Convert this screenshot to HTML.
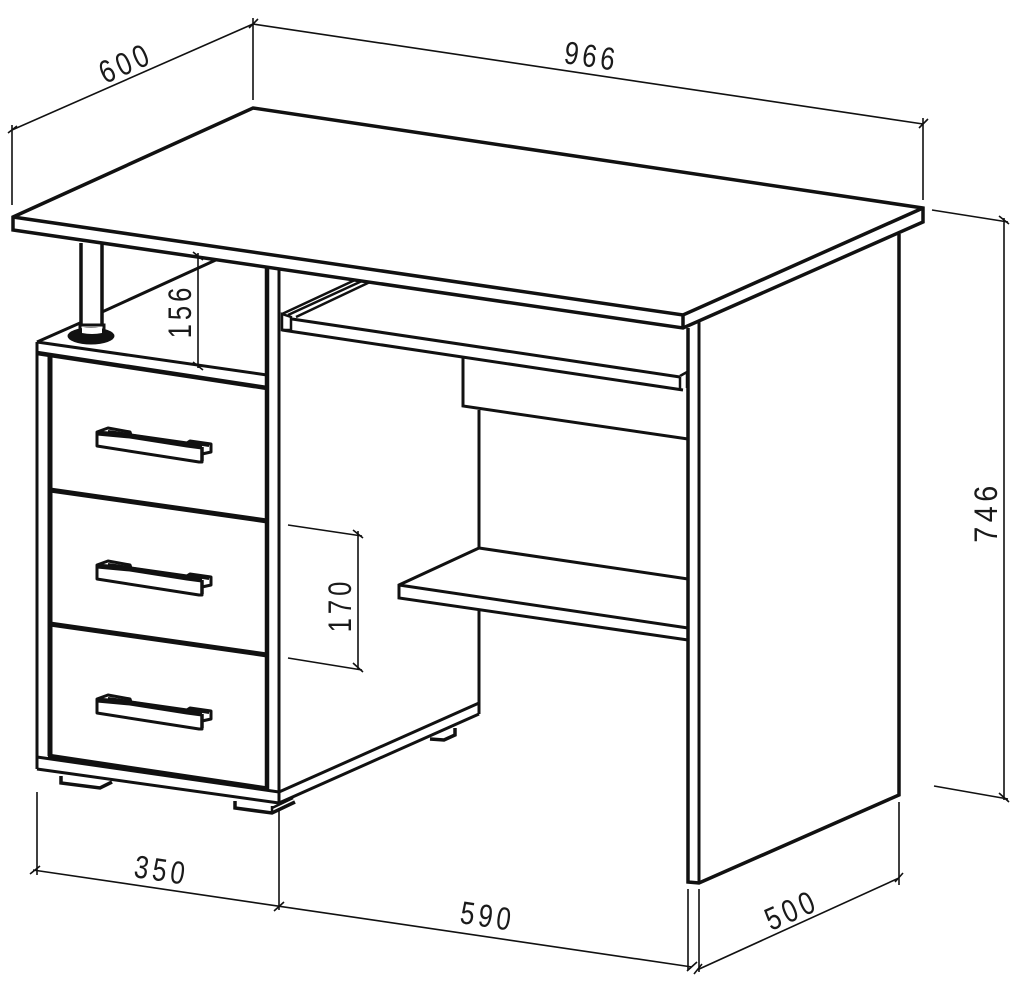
<!DOCTYPE html>
<html><head><meta charset="utf-8"><style>
html,body{margin:0;padding:0;background:#fff}
svg{display:block}
text{font-family:"Liberation Sans",sans-serif;font-size:32px;fill:#1a1a1a;text-anchor:middle;letter-spacing:5px}
</style></head><body>
<svg width="1020" height="988" viewBox="0 0 1020 988" xmlns="http://www.w3.org/2000/svg">
<defs>
<g id="h">
<path d="M97 432L108 428L130 432L131 435L187 443L190 441L211 444V452L202 454V462L199 462L97 446Z" fill="#fff" stroke="#111" stroke-width="3" stroke-linejoin="round"/>
<path d="M97 433L130 436L187 445L202 447" fill="none" stroke="#111" stroke-width="5"/>
<path d="M108 431L130 434M190 443L209 446" stroke="#111" stroke-width="2" fill="none"/>
<path d="M202 447V461" stroke="#111" stroke-width="3.5" fill="none"/>
</g>
</defs>
<g fill="none" stroke="#111" stroke-linejoin="miter">
<path d="M102 312L218 259" stroke-width="3"/>
<ellipse cx="91" cy="336" rx="23.5" ry="8.5" fill="#111" stroke="none"/>
<path d="M82 328H102V333Q92 335 82 333Z" fill="#fff" stroke="none"/>
<path d="M80 325H104V331M80 325V331" stroke-width="3"/>
<path d="M81 243V325M102 243V325" stroke-width="3.5"/>
<path d="M37 342L80 323" stroke-width="3"/>
<path d="M37 342L267 375" stroke-width="3"/>
<path d="M37 353L267 388" stroke-width="4.5"/>
<path d="M37 342V769" stroke-width="3"/>
<path d="M50 356V756" stroke-width="5"/>
<path d="M267 267V789" stroke-width="4.5"/>
<path d="M279 267V803" stroke-width="3"/>
<path d="M50 490L267 521" stroke-width="5"/>
<path d="M50 624L267 655" stroke-width="5"/>
<path d="M48 756L268 789" stroke-width="5"/>
<path d="M37 757L279 792" stroke-width="3"/>
<path d="M37 769L279 803" stroke-width="3"/>
<path d="M279 792L479 703" stroke-width="3"/>
<path d="M279 803L479 714" stroke-width="3"/>
<path d="M479 410V548M479 610V714" stroke-width="3"/>
<path d="M61 776V783L100 788L112 782" stroke-width="3.5"/>
<path d="M235 801V808L272 813L295 802" stroke-width="3.5"/>
<path d="M272 806V813M272 808L293 798" stroke-width="2.5"/>
<path d="M430 739L444 740L455 735V728" stroke-width="3.5"/>
<path d="M282 314L355 280M288 315L362 281M296 317L370 282" stroke-width="2.5"/>
<path d="M282 314V330H291V317Z" fill="#fff" stroke-width="2.5"/>
<path d="M292 319L680 377" stroke-width="3"/>
<path d="M282 330L683 390" stroke-width="3"/>
<path d="M680 377V390" stroke-width="2.5"/>
<path d="M680 376L687 372V388" stroke-width="2.5"/>
<path d="M463 358V406L688 439" stroke-width="3"/>
<path d="M479 548L688 579" stroke-width="3"/>
<path d="M479 548L399 585V598L688 640" stroke-width="3"/>
<path d="M399 585L688 628" stroke-width="3"/>
<path d="M688 328V882L699 883L899 795V234" stroke-width="3.5"/>
<path d="M699 322V883" stroke-width="3"/>
<path d="M13 217L253 108L923 208V222L683 328L13 230Z" fill="#fff" stroke-width="3.5"/>
<path d="M13 217L683 315L923 208M683 315V328" stroke-width="3.5"/>
<use href="#h"/>
<use href="#h" y="133"/>
<use href="#h" y="267"/>
<g stroke-width="1.6">
<path d="M253 18V100M923 118V200M12 125V205"/>
<path d="M12 130L253 24M253 24L923 124"/>
<path d="M8 133L17 126M249 28L258 19M919 128L928 119"/>
<path d="M932 210L1008 222M934 786L1008 799M1004 218V800"/>
<path d="M999 216L1009 224M999 793L1009 802"/>
<path d="M198 253V368M193 252L203 260M193 362L203 370"/>
<path d="M288 525L362 536M288 658L362 670M358 531V670"/>
<path d="M353 530L363 538M353 663L363 672"/>
<path d="M37 792V875M279 808V910M688 889V970M699 889V972M899 802V885"/>
<path d="M33 870L692 967M30 874L40 866M274 911L284 902M687 971L697 962"/>
<path d="M697 970L899 878M694 974L702 964M895 882L903 873"/>
</g>
</g>
<text transform="translate(130 73) rotate(-24) scale(.8 1)">600</text>
<text transform="translate(590 67) rotate(8.5) scale(.8 1)">966</text>
<text transform="translate(191 311) rotate(-90) scale(.8 1)">156</text>
<text transform="translate(351 605) rotate(-90) scale(.8 1)">170</text>
<text transform="translate(997 512) rotate(-90) scale(.9 1)">746</text>
<text transform="translate(160 881) rotate(8.5) scale(.8 1)">350</text>
<text transform="translate(486 927) rotate(8.5) scale(.8 1)">590</text>
<text transform="translate(796 920) rotate(-24) scale(.8 1)">500</text>
</svg>
</body></html>
